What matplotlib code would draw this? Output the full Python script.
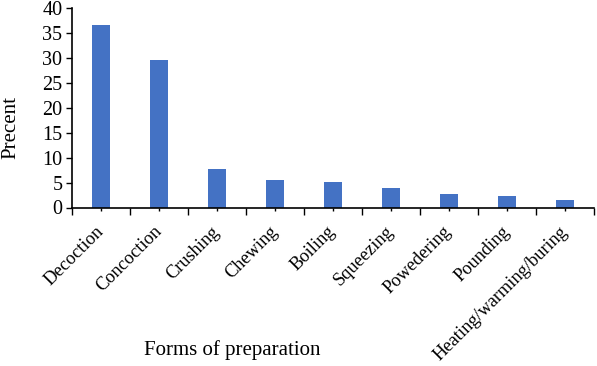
import matplotlib
matplotlib.use("Agg")
import matplotlib.pyplot as plt
import numpy as np

categories = ["Decoction", "Concoction", "Crushing", "Chewing", "Boiling",
              "Squeezing", "Powedering", "Pounding", "Heating/warming/buring"]
values = [36.6, 29.6, 7.8, 5.5, 5.1, 3.9, 2.7, 2.3, 1.5]
yticks = [0, 5, 10, 15, 20, 25, 30, 35, 40]

plt.rcParams['font.family'] = ['Liberation Serif', 'DejaVu Serif']

fig = plt.figure(figsize=(5.97, 3.66), dpi=100)
ax = fig.add_axes([72/597, 1-207.5/366, (594-72)/597, (207.5-8.3)/366])

x = np.arange(len(categories))
ax.bar(x, values, width=0.31, color="#4472C4", edgecolor="none", zorder=2)

ax.set_xlim(-0.5, len(categories) - 0.5)
ax.set_ylim(0, 40)
ax.set_yticks(yticks)
ax.set_yticklabels([str(v) for v in yticks], fontsize=14.5)

ax.set_xticks(x)
ax.set_xticklabels(categories, rotation=45, ha="right", va="center",
                   rotation_mode="anchor", fontsize=13.2)
ax.set_xticks(np.arange(-0.5, len(categories)), minor=True)
ax.tick_params(axis="x", which="major", length=2.5, width=1, color="black", pad=13)
ax.tick_params(axis="x", which="minor", length=5, width=1, color="black")
ax.tick_params(axis="y", length=4, width=1, color="black", pad=3)

for s in ["top", "right"]:
    ax.spines[s].set_visible(False)
for s in ["left", "bottom"]:
    ax.spines[s].set_linewidth(1.2)
    ax.spines[s].set_color("black")

fig.text(11/597, 1-127/366, "Precent", rotation=90, ha="center", va="center", fontsize=15)
fig.text(232/597, 1-350/366, "Forms of preparation", ha="center", va="center", fontsize=15)

fig.savefig("out.png", dpi=100)
